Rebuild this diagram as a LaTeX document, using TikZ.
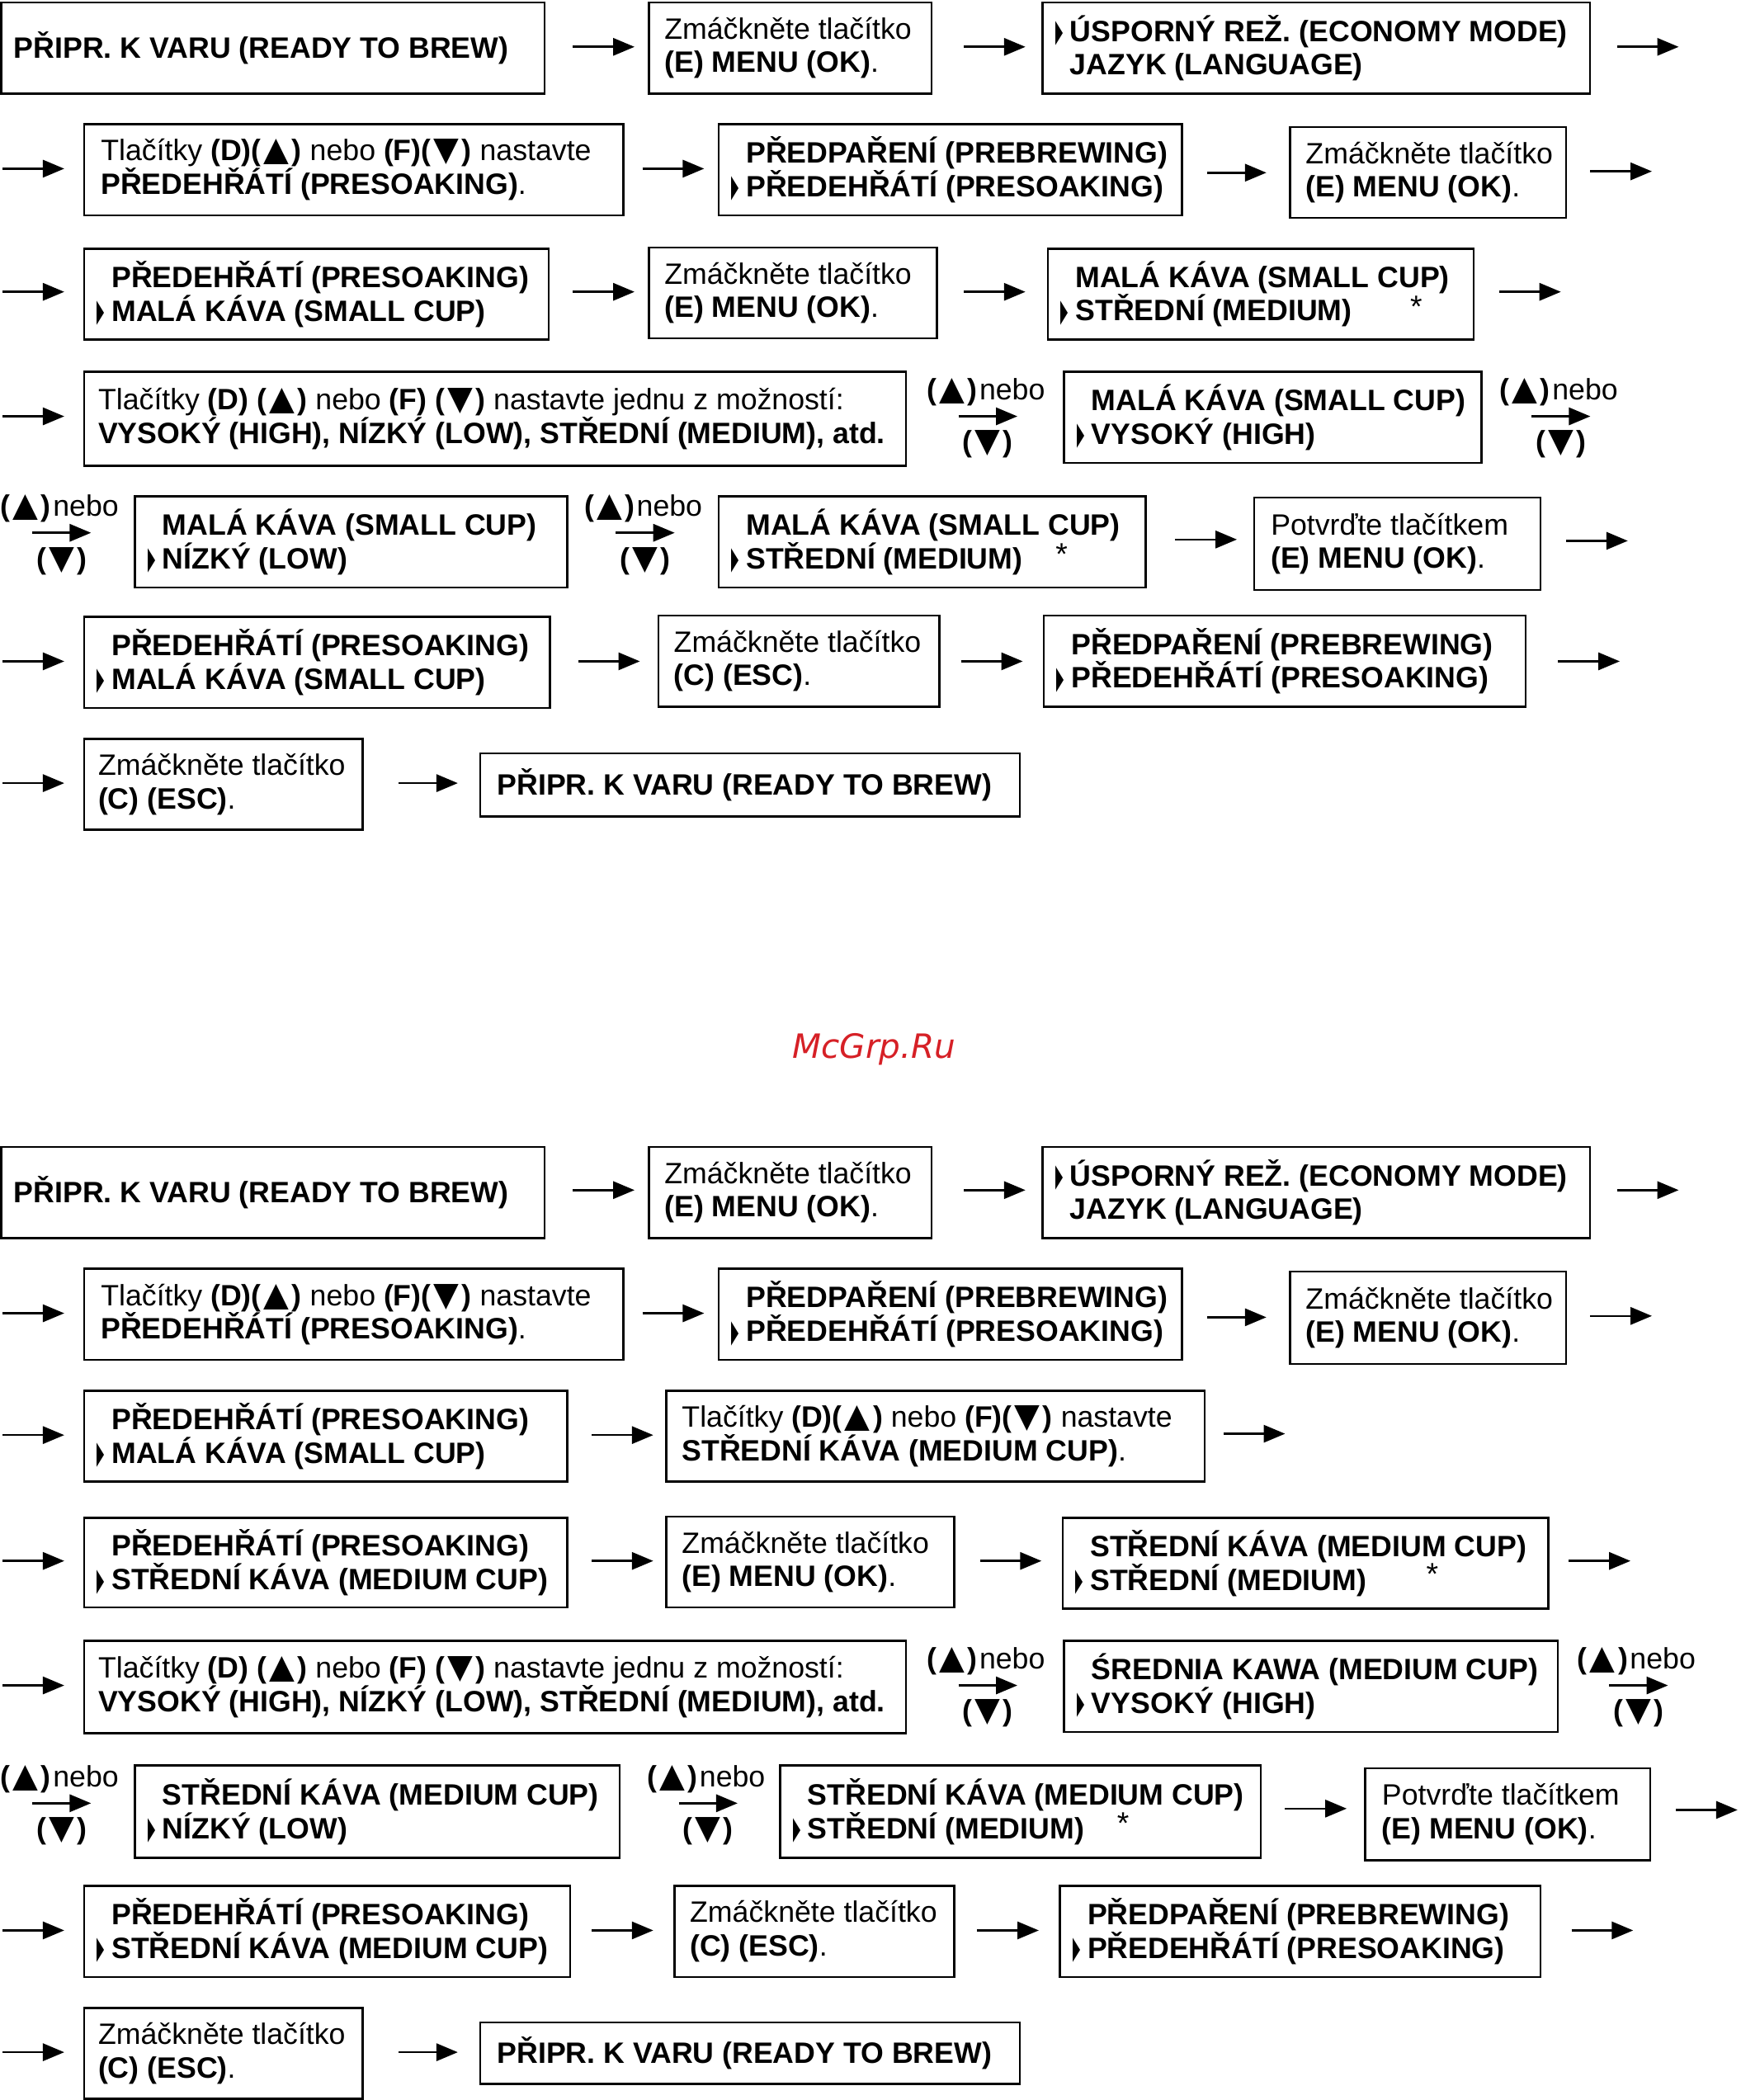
\documentclass[tikz,border=0pt]{standalone}
\usepackage{fontspec}
\usepackage{graphicx}
\setmainfont{Liberation Sans}
\newfontfamily\djv{DejaVu Sans}
\usetikzlibrary{arrows.meta}
\definecolor{wm}{RGB}{214,32,38}
\newcommand\ptr{\raisebox{-0.2pt}{\resizebox{2.8pt}{7.6pt}{\djv ▶}}}
\newcommand\pq{\makebox[5.5pt][l]{\ptr}}
\newcommand\nq{\makebox[5.5pt]{}}
\newcommand\up{\kern1pt\resizebox{9.5pt}{8pt}{\djv ▲}\kern1pt}
\newcommand\dn{\kern1pt\resizebox{9.5pt}{8pt}{\djv ▼}\kern1pt}
\newcommand\zmE{Zmáčkněte tlačítko\\\textbf{(E) MENU (OK)}.}
\newcommand\zmC{Zmáčkněte tlačítko\\\textbf{(C) (ESC)}.}
\newcommand\potv{Potvrďte tlačítkem\\\textbf{(E) MENU (OK)}.}
\newcommand\tlA{Tlačítky \textbf{(D)(\up)} nebo \textbf{(F)(\dn)} nastavte}
\newcommand\tlB{Tlačítky \textbf{(D)} \textbf{(\up)} nebo \textbf{(F)} \textbf{(\dn)} nastavte jednu z možností:\\\textbf{VYSOKÝ (HIGH), NÍZKÝ (LOW), STŘEDNÍ (MEDIUM), atd.}}
\newcommand\rdy{\textbf{PŘIPR. K VARU (READY TO BREW)}}
\newcommand\eco{\pq\textbf{ÚSPORNÝ REŽ. (ECONOMY MODE)}\\\nq\textbf{JAZYK (LANGUAGE)}}
\newcommand\preb{\nq\textbf{PŘEDPAŘENÍ (PREBREWING)}\\\pq\textbf{PŘEDEHŘÁTÍ (PRESOAKING)}}
\newcommand\bx[7]{%
  \node[boxs, anchor=north west, minimum width=#4*0.5pt, minimum height=#5*0.5pt] (#1) at (#2,#3) {};
  \node[txt, anchor=west] (#1t) at ([xshift=#6*0.5pt]#1.west) {#7};}
\newcommand\arr[4]{%
  \coordinate (#1a) at (#2,#4); \coordinate (#1b) at (#3,#4);
  \draw[conn] (#1a) -- (#1b);}
\newcommand\updn[4]{%
  \coordinate (#1a) at (#2,#4); \coordinate (#1b) at (#3,#4);
  \draw[conn] (#1a) -- (#1b);
  \node[txt, anchor=west] (#1u) at (#2-24,#4-18) {\textbf{(\up)}\kern0.8pt nebo};
  \node[txt] (#1d) at ({(#2+#3)/2},#4+21) {\textbf{(\dn)}};}
\begin{document}
\begin{tikzpicture}[x=0.5pt,y=-0.5pt,
  boxs/.style={draw, line width=0.8pt, inner sep=0pt},
  txt/.style={inner sep=0pt, align=left, font=\fontsize{11}{12.5}\selectfont},
  conn/.style={line width=0.8pt, -{Triangle[length=8pt,width=6.5pt]}},
  star/.style={inner sep=0pt, anchor=base, font=\fontsize{11.5}{12.5}\selectfont}]
\useasboundingbox (0,0) rectangle (1300,1568.7);
% ---------------- upper flow ----------------
\bx{b1}{0}{1}{406}{68}{10}{\rdy}
\arr{a11}{428}{474}{35}
\bx{b2}{484}{1}{211}{68}{12}{\zmE}
\arr{a12}{720}{766}{35}
\bx{b3}{778}{1}{409}{68}{10}{\eco}
\arr{a13}{1208}{1254}{35}
\arr{a21}{2}{48}{126}
\bx{b4}{62}{92}{403}{68}{13}{\tlA\\\textbf{PŘEDEHŘÁTÍ (PRESOAKING)}.}
\arr{a22}{480}{526}{126}
\bx{b5}{536}{92}{346}{68}{10}{\preb}
\arr{a23}{902}{946}{129}
\bx{b6}{963}{94}{206}{68}{12}{\zmE}
\arr{a24}{1188}{1234}{128}
\arr{a31}{2}{48}{218}
\bx{b7}{62}{185}{347}{68}{10}{\nq\textbf{PŘEDEHŘÁTÍ (PRESOAKING)}\\\pq\textbf{MALÁ KÁVA (SMALL CUP)}}
\arr{a32}{428}{474}{218}
\bx{b8}{484}{184}{215}{68}{12}{\zmE}
\arr{a33}{720}{766}{218}
\bx{b9}{782}{185}{318}{68}{10}{\nq\textbf{MALÁ KÁVA (SMALL CUP)}\\\pq\textbf{STŘEDNÍ (MEDIUM)}}
\node[star] (s9) at (1058,237) {*};
\arr{a34}{1120}{1166}{218}
\arr{a41}{2}{48}{311}
\bx{b10}{62}{277}{614}{70}{11}{\tlB}
\updn{u41}{716}{760}{311}
\bx{b11}{794}{277}{312}{68}{10}{\nq\textbf{MALÁ KÁVA (SMALL CUP)}\\\pq\textbf{VYSOKÝ (HIGH)}}
\updn{u42}{1144}{1188}{311}
\updn{u51}{24}{68}{398}
\bx{b12}{100}{370}{323}{68}{10}{\nq\textbf{MALÁ KÁVA (SMALL CUP)}\\\pq\textbf{NÍZKÝ (LOW)}}
\updn{u52}{460}{504}{398}
\bx{b13}{536}{370}{319}{68}{10}{\nq\textbf{MALÁ KÁVA (SMALL CUP)}\\\pq\textbf{STŘEDNÍ (MEDIUM)}}
\node[star] (s13) at (793,422) {*};
\arr{a53}{878}{924}{403}
\bx{b14}{936}{371}{214}{69}{13}{\potv}
\arr{a54}{1170}{1216}{404}
\arr{a61}{2}{48}{494}
\bx{b15}{62}{460}{348}{68}{10}{\nq\textbf{PŘEDEHŘÁTÍ (PRESOAKING)}\\\pq\textbf{MALÁ KÁVA (SMALL CUP)}}
\arr{a62}{432}{478}{494}
\bx{b16}{491}{459}{210}{68}{12}{\zmC}
\arr{a63}{718}{764}{494}
\bx{b17}{779}{459}{360}{68}{10}{\preb}
\arr{a64}{1164}{1210}{494}
\arr{a71}{2}{48}{585}
\bx{b18}{62}{551}{208}{68}{11}{\zmC}
\arr{a72}{298}{342}{585}
\bx{b19}{358}{562}{403}{47}{13}{\rdy}
% ---------------- watermark ----------------
\node[inner sep=0pt, text=wm, font=\djv\itshape\fontsize{12.5}{14}\selectfont] (wmk) at (653,784) {McGrp.Ru};
% ---------------- lower flow ----------------
\bx{c1}{0}{856}{406}{68}{10}{\rdy}
\arr{d11}{428}{474}{889}
\bx{c2}{484}{856}{211}{68}{12}{\zmE}
\arr{d12}{720}{766}{889}
\bx{c3}{778}{856}{409}{68}{10}{\eco}
\arr{d13}{1208}{1254}{889}
\arr{d21}{2}{48}{981}
\bx{c4}{62}{947}{403}{68}{13}{\tlA\\\textbf{PŘEDEHŘÁTÍ (PRESOAKING)}.}
\arr{d22}{480}{526}{981}
\bx{c5}{536}{947}{346}{68}{10}{\preb}
\arr{d23}{902}{946}{984}
\bx{c6}{963}{949}{206}{69}{12}{\zmE}
\arr{d24}{1188}{1234}{983}
\arr{d31}{2}{48}{1072}
\bx{c7}{62}{1038}{361}{68}{10}{\nq\textbf{PŘEDEHŘÁTÍ (PRESOAKING)}\\\pq\textbf{MALÁ KÁVA (SMALL CUP)}}
\arr{d32}{442}{488}{1072}
\bx{c8}{497}{1038}{402}{68}{12}{\tlA\\\textbf{STŘEDNÍ KÁVA (MEDIUM CUP)}.}
\arr{d33}{914}{960}{1071}
\arr{d41}{2}{48}{1166}
\bx{c9}{62}{1133}{361}{67}{10}{\nq\textbf{PŘEDEHŘÁTÍ (PRESOAKING)}\\\pq\textbf{STŘEDNÍ KÁVA (MEDIUM CUP)}}
\arr{d42}{442}{488}{1166}
\bx{c10}{497}{1132}{215}{68}{12}{\zmE}
\arr{d43}{732}{778}{1166}
\bx{c11}{793}{1133}{363}{68}{10}{\nq\textbf{STŘEDNÍ KÁVA (MEDIUM CUP)}\\\pq\textbf{STŘEDNÍ (MEDIUM)}}
\node[star] (s11) at (1070,1184) {*};
\arr{d44}{1172}{1218}{1166}
\arr{d51}{2}{48}{1259}
\bx{c12}{62}{1225}{614}{69}{11}{\tlB}
\updn{v51}{716}{760}{1259}
\bx{c13}{794}{1225}{369}{68}{10}{\nq\textbf{ŚREDNIA KAWA (MEDIUM CUP)}\\\pq\textbf{VYSOKÝ (HIGH)}}
\updn{v52}{1202}{1246}{1259}
\updn{v61}{24}{68}{1347}
\bx{c14}{100}{1318}{362}{69}{10}{\nq\textbf{STŘEDNÍ KÁVA (MEDIUM CUP)}\\\pq\textbf{NÍZKÝ (LOW)}}
\updn{v62}{507}{551}{1347}
\bx{c15}{582}{1318}{359}{69}{10}{\nq\textbf{STŘEDNÍ KÁVA (MEDIUM CUP)}\\\pq\textbf{STŘEDNÍ (MEDIUM)}}
\node[star] (s15) at (839,1370) {*};
\arr{d63}{960}{1006}{1351}
\bx{c16}{1019}{1320}{213}{69}{13}{\potv}
\arr{d64}{1252}{1298}{1352}
\arr{d71}{2}{48}{1442}
\bx{c17}{62}{1408}{363}{68}{10}{\nq\textbf{PŘEDEHŘÁTÍ (PRESOAKING)}\\\pq\textbf{STŘEDNÍ KÁVA (MEDIUM CUP)}}
\arr{d72}{442}{488}{1442}
\bx{c18}{503}{1408}{209}{68}{12}{\zmC}
\arr{d73}{730}{776}{1442}
\bx{c19}{791}{1408}{359}{68}{10}{\preb}
\arr{d74}{1174}{1220}{1442}
\arr{d81}{2}{48}{1533}
\bx{c20}{62}{1499}{208}{68}{11}{\zmC}
\arr{d82}{298}{342}{1533}
\bx{c21}{358}{1510}{403}{46}{13}{\rdy}
\end{tikzpicture}
\end{document}
